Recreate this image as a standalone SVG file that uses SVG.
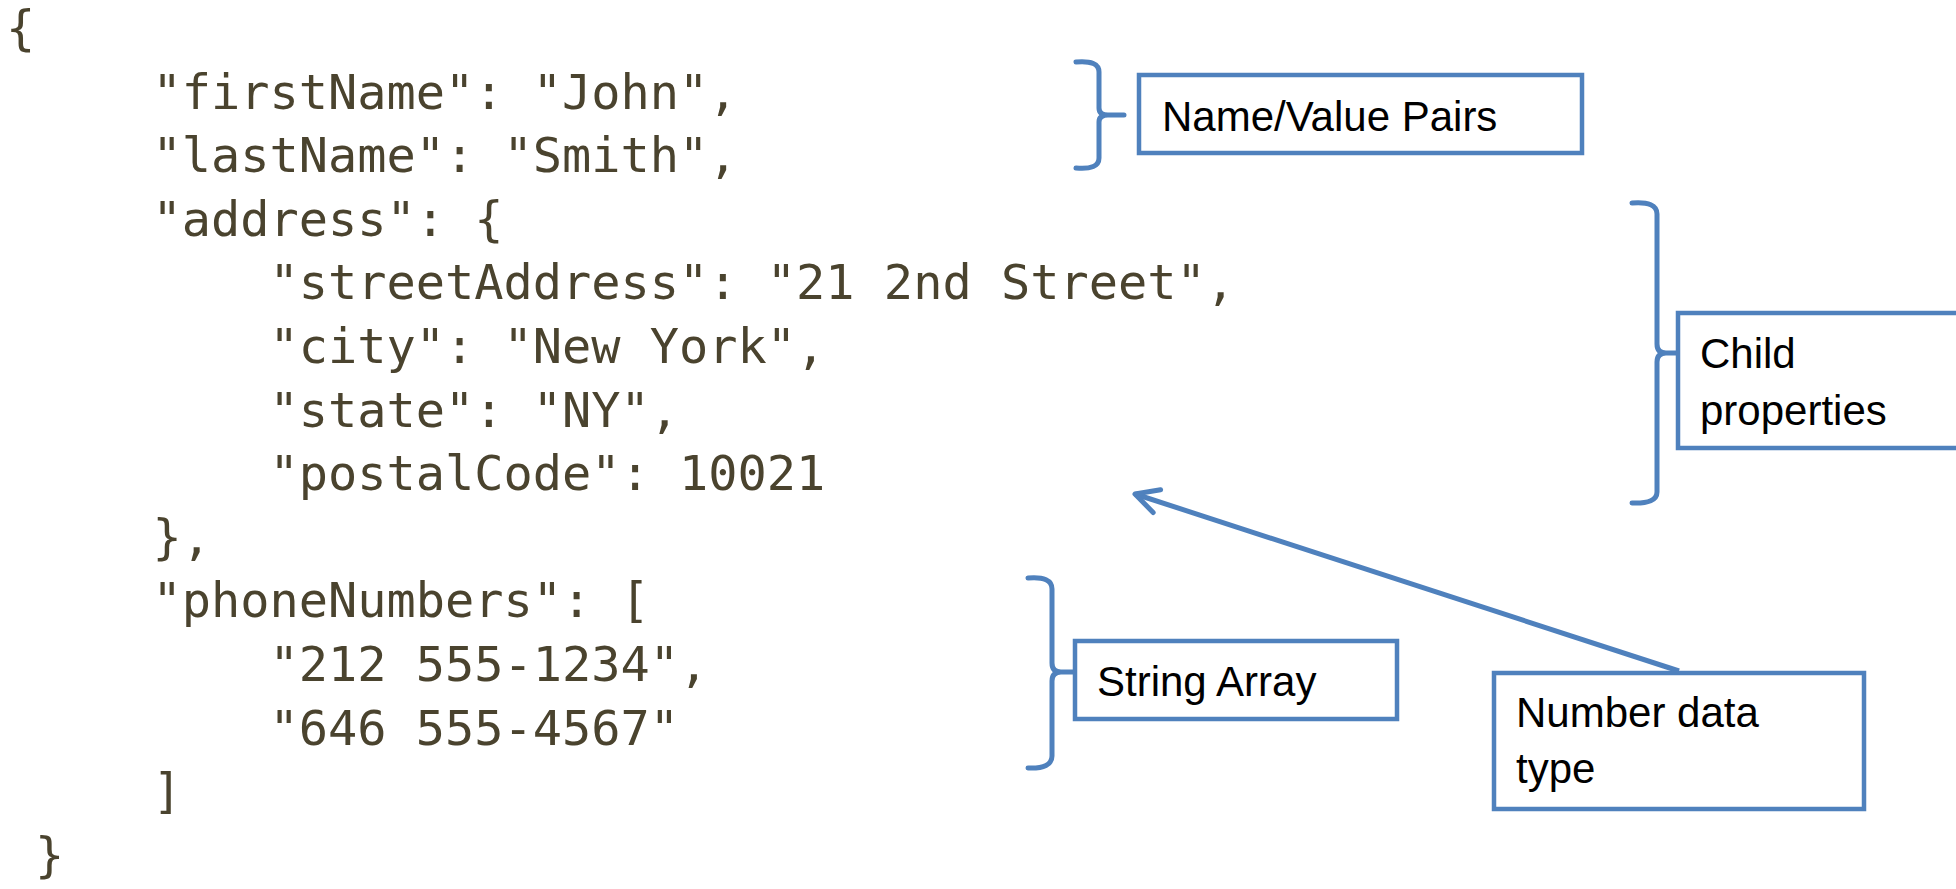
<svg xmlns="http://www.w3.org/2000/svg" width="1956" height="889" viewBox="0 0 1956 889">
<style>
.code{font-family:"DejaVu Sans Mono","Liberation Mono",monospace;font-size:48.6px;fill:#4A432E}
.lbl{font-family:"Liberation Sans",Arial,sans-serif;font-size:42px;fill:#000}
.box{fill:#fff;stroke:#4F81BD;stroke-width:4.5}
.brace{fill:none;stroke:#4F81BD;stroke-width:5;stroke-linecap:round;stroke-linejoin:round}
.conn{fill:none;stroke:#4F81BD;stroke-width:5}
</style>
<defs>
<marker id="arr" markerUnits="userSpaceOnUse" markerWidth="40" markerHeight="40" refX="37" refY="20" orient="auto" viewBox="0 0 40 40">
<path d="M14,8 L37,20 L14,32" fill="none" stroke="#4F81BD" stroke-width="5" stroke-linecap="round" stroke-linejoin="round"/>
</marker>
</defs>
<rect width="1956" height="889" fill="#fff"/>
<g id="code">
<text class="code" x="6" y="45">{</text>
<text class="code" x="152.5" y="108.6">"firstName": "John",</text>
<text class="code" x="152.5" y="172">"lastName": "Smith",</text>
<text class="code" x="152.5" y="236">"address": {</text>
<text class="code" x="269.5" y="299">"streetAddress": "21 2nd Street",</text>
<text class="code" x="269.5" y="363">"city": "New York",</text>
<text class="code" x="269.5" y="427">"state": "NY",</text>
<text class="code" x="269.5" y="490">"postalCode": 10021</text>
<text class="code" x="152.5" y="554">},</text>
<text class="code" x="152.5" y="617">"phoneNumbers": [</text>
<text class="code" x="269.5" y="681">"212 555-1234",</text>
<text class="code" x="269.5" y="745">"646 555-4567"</text>
<text class="code" x="152.5" y="808">]</text>
<text class="code" x="35" y="872">}</text>
</g>
<g id="name-value-pairs">
<path class="brace" d="M1076,62 Q1099,60 1099,72 V108 Q1099,115 1108,115 H1124 M1108,115 Q1099,115 1099,122 V158 Q1099,170 1076,168"/>
<rect class="box" x="1139" y="75" width="443" height="78"/>
<text class="lbl" x="1162" y="131">Name/Value Pairs</text>
</g>
<g id="child-properties">
<path class="brace" d="M1632,203 Q1657,201 1657,214 V344 Q1657,353 1666,353 H1678 M1666,353 Q1657,353 1657,362 V492 Q1657,504 1632,503"/>
<rect class="box" x="1678" y="313" width="300" height="135"/>
<text class="lbl" x="1700" y="368">Child</text>
<text class="lbl" x="1700" y="425">properties</text>
</g>
<g id="string-array">
<path class="brace" d="M1028,578 Q1052,576 1052,589 V663 Q1052,672 1061,672 H1075 M1061,672 Q1052,672 1052,681 V756 Q1052,769 1028,768"/>
<rect class="box" x="1075" y="641" width="322" height="78"/>
<text class="lbl" x="1097" y="696">String Array</text>
</g>
<g id="number-data-type">
<rect class="box" x="1494" y="673" width="370" height="136"/>
<text class="lbl" x="1516" y="727">Number data</text>
<text class="lbl" x="1516" y="783">type</text>
</g>
<g id="connectors">
<path class="conn" d="M1679,671 L1135,494" marker-end="url(#arr)"/>
</g>
</svg>
